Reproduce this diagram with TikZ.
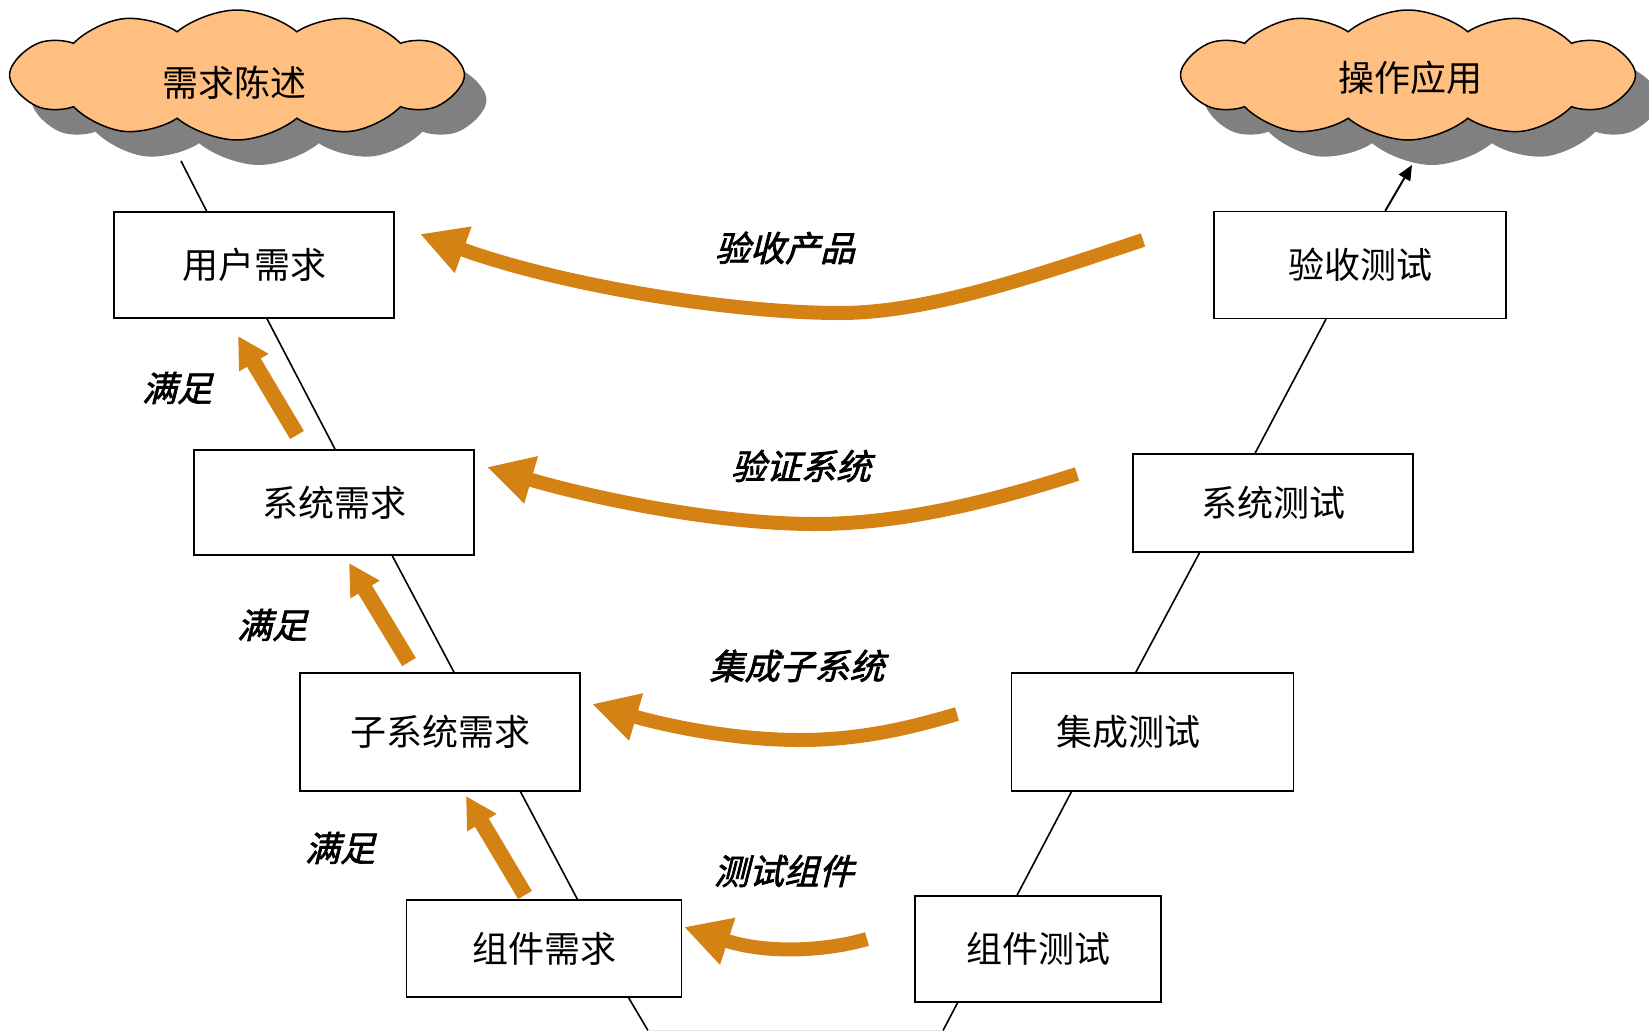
\documentclass[tikz,border=0pt]{standalone}
\usepackage{fontspec}
\newfontfamily\cjk{Noto Sans CJK SC}
\newfontfamily\cjkit[FakeSlant=0.25,FakeBold=2]{Noto Sans CJK SC}
\usetikzlibrary{shapes.symbols,arrows.meta,calc}
\definecolor{vorange}{RGB}{212,130,20}
\definecolor{cloudfill}{RGB}{255,191,128}
\definecolor{shadowgray}{RGB}{128,128,128}
\begin{document}
\begin{tikzpicture}[x=1pt,y=-1pt,
  box/.style={draw, line width=1.3pt, inner sep=0pt, font=\cjk\fontsize{36}{40}\selectfont},
  vline/.style={draw, line width=1.6pt},
  lbl/.style={font=\cjkit\fontsize{35}{40}\selectfont, inner sep=0pt},
  ctext/.style={font=\cjk\fontsize{36}{40}\selectfont, inner sep=0pt},
  cloudshape/.style={cloud, cloud puffs=12, cloud puff arc=80, cloud ignores aspect,
    minimum width=455pt, minimum height=130pt, inner sep=0pt},
  oarrow/.style={draw=vorange, line width=14pt, -{Triangle[length=46pt,width=46pt]}},
  sarrow/.style={draw=vorange, line width=16pt, -{Triangle[length=31pt,width=32pt]}},
]
\useasboundingbox (0,0) rectangle (1649,1031);

% clouds with shadows
\node[cloudshape, fill=shadowgray] (shL) at (259,100) {};
\node[cloudshape, fill=shadowgray] (shR) at (1432,100) {};
\node[cloudshape, fill=cloudfill, draw, line width=1.5pt] (clL) at (237,75) {};
\node[cloudshape, fill=cloudfill, draw, line width=1.5pt] (clR) at (1408,75) {};
\node[ctext] (tL) at (234,83) {需求陈述};
\node[ctext] (tR) at (1410,78) {操作应用};

% boxes
\node[box, minimum width=280pt, minimum height=106pt] (ur) at (254,265) {用户需求};
\node[box, minimum width=280pt, minimum height=105pt] (sr) at (334,502.5) {系统需求};
\node[box, minimum width=280pt, minimum height=118pt] (zr) at (440,732) {子系统需求};
\node[box, minimum width=275pt, minimum height=97pt] (kr) at (544,948.5) {组件需求};
\node[box, minimum width=292pt, minimum height=107pt] (ac) at (1360,265) {验收测试};
\node[box, minimum width=280pt, minimum height=98pt] (st) at (1273,503) {系统测试};
\node[box, minimum width=282pt, minimum height=118pt] (jt) at (1152.5,732) {\hspace*{-48pt}集成测试};
\node[box, minimum width=246pt, minimum height=106pt] (kt) at (1038,949) {组件测试};

% V lines
\coordinate (clfoot) at (181,161);
\coordinate (bl) at (648,1030.5);
\coordinate (br) at (943,1030.5);
\coordinate (cltip) at (1412,165);
\draw[vline] (clfoot) -- ($(ur.north west)!0.332!(ur.north east)$);
\draw[vline] ($(ur.south west)!0.546!(ur.south east)$) -- ($(sr.north west)!0.504!(sr.north east)$);
\draw[vline] ($(sr.south west)!0.707!(sr.south east)$) -- ($(zr.north west)!0.55!(zr.north east)$);
\draw[vline] ($(zr.south west)!0.786!(zr.south east)$) -- ($(kr.north west)!0.621!(kr.north east)$);
\draw[vline] ($(kr.south west)!0.806!(kr.south east)$) -- (bl);
\draw[vline] ($(kt.south west)!0.175!(kt.south east)$) -- (br);
\draw[gray!20, line width=1pt] (bl) -- (br);
\draw[vline] ($(kt.north west)!0.415!(kt.north east)$) -- ($(jt.south west)!0.214!(jt.south east)$);
\draw[vline] ($(jt.north west)!0.441!(jt.north east)$) -- ($(st.south west)!0.239!(st.south east)$);
\draw[vline] ($(st.north west)!0.436!(st.north east)$) -- ($(ac.south west)!0.384!(ac.south east)$);
\draw[line width=2pt, -{Triangle[length=15pt,width=13pt]}] ($(ac.north west)!0.586!(ac.north east)$) -- (cltip);

% orange feedback arrows
\coordinate (a1s) at (1143,240); \coordinate (a1m) at (840,313); \coordinate (a1e) at (420,234);
\draw[oarrow] (a1s) .. controls (1040,274) and (930,313) .. (a1m) .. controls (730,313) and (560,285) .. (a1e);
\coordinate (a2s) at (1077,474); \coordinate (a2m) at (815,524); \coordinate (a2e) at (487,467);
\draw[oarrow] (a2s) .. controls (990,502) and (900,524) .. (a2m) .. controls (720,524) and (600,500) .. (a2e);
\coordinate (a3s) at (957,714); \coordinate (a3m) at (800,740); \coordinate (a3e) at (592,704);
\draw[oarrow] (a3s) .. controls (910,728) and (860,740) .. (a3m) .. controls (730,740) and (660,724) .. (a3e);
\coordinate (a4s) at (867,939); \coordinate (a4e) at (684,927);
\draw[oarrow] (a4s) .. controls (830,950) and (770,955) .. (a4e);

% satisfy arrows
\coordinate (s1s) at (297,435); \coordinate (s1e) at (238,336);
\coordinate (s2s) at (409,662); \coordinate (s2e) at (349,563);
\coordinate (s3s) at (525,895); \coordinate (s3e) at (466,796);
\draw[sarrow] (s1s) -- (s1e);
\draw[sarrow] (s2s) -- (s2e);
\draw[sarrow] (s3s) -- (s3e);

% labels
\node[lbl] (l1) at (785,248) {验收产品};
\node[lbl] (l2) at (801,466) {验证系统};
\node[lbl] (l3) at (797,666) {集成子系统};
\node[lbl] (l4) at (784,871) {测试组件};
\node[lbl] (m1) at (177,388) {满足};
\node[lbl] (m2) at (272,625) {满足};
\node[lbl] (m3) at (340,848) {满足};
\end{tikzpicture}
\end{document}
